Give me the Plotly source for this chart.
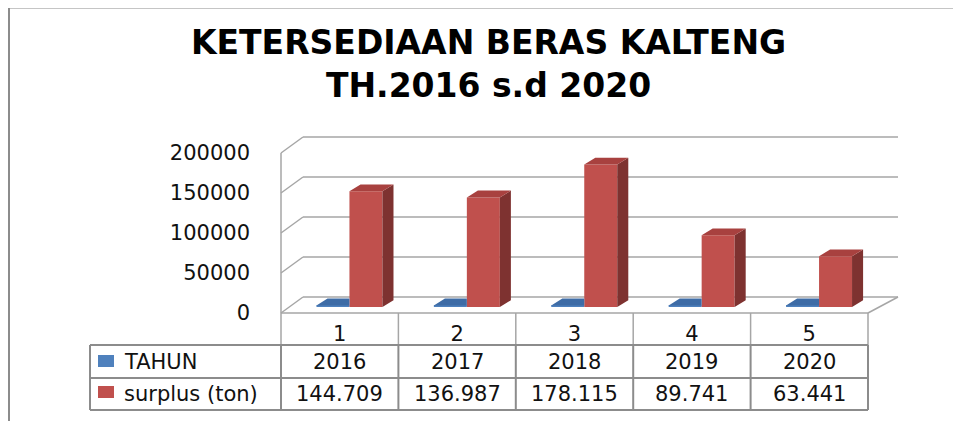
import plotly.graph_objects as go

# ---------------- data ----------------
categories = ["1", "2", "3", "4", "5"]
tahun = [2016, 2017, 2018, 2019, 2020]
surplus = [144709, 136987, 178115, 89741, 63441]
series_names = ["TAHUN", "surplus (ton)"]
y_ticks = [0, 50000, 100000, 150000, 200000]
title_lines = ["KETERSEDIAAN BERAS KALTENG", "TH.2016 s.d 2020"]

# ---------------- geometry helpers (reference pixel -> data) ----------------
OFF = 8                       # page body margin
W, H = 961 - OFF, 421 - OFF
X0PX, CW = 281, 117.4         # front-left floor corner, category width (reference px)
Y0PX, K = 313, 0.0008         # front floor y, px per value unit


def xd(px):
    return -0.5 + (px - X0PX) / CW


def yd(py):
    return (Y0PX - py) / K


XR = [xd(OFF), xd(OFF + W)]
YR = [yd(OFF + H), yd(OFF)]

# depth (oblique 3-D look)
DV_FULL = 16 / K
DX_L, DX_R = 22 / CW, 30 / CW
D0, D1 = 0.375, 0.80
SX = D0 * 26 / CW
SV = D0 * DV_FULL
BDX = (D1 - D0) * 26 / CW
BDV = (D1 - D0) * DV_FULL
BW = 0.281

BLUE, BLUE_TOP = "#4F81BD", "#3E6CA6"
RED, RED_TOP, RED_SIDE = "#C0504D", "#A8413F", "#7E3230"
GRID = "#A6A6A6"
TBL = "#8C8C8C"
FONT = "DejaVu Sans"
FS = 21

idx = list(range(len(categories)))

fig = go.Figure()

fig.add_trace(go.Bar(x=idx, y=tahun, name=series_names[0], marker=dict(color=BLUE, line=dict(width=0)),
                     xaxis="x2", yaxis="y2", showlegend=False))
fig.add_trace(go.Bar(x=idx, y=surplus, name=series_names[1], marker=dict(color=RED, line=dict(width=0)),
                     xaxis="x2", yaxis="y2", showlegend=False))

bx, by = [], []
for i, v in zip(idx, tahun):
    xl, xr = i - BW, i
    bx += [xl, xr, xr, xl + BDX, xl, None]
    by += [v, v, v + BDV, v + BDV, v, None]
fig.add_trace(go.Scatter(x=bx, y=by, fill="toself", fillcolor=BLUE_TOP, mode="lines",
                         line=dict(width=0), xaxis="x2", yaxis="y2", hoverinfo="skip", showlegend=False))

sx_, sy_, tx_, ty_ = [], [], [], []
for i, v in zip(idx, surplus):
    xl, xr = i, i + BW
    sx_ += [xr, xr, xr + BDX, xr + BDX, xr, None]
    sy_ += [0, v, v + BDV, BDV, 0, None]
    tx_ += [xl, xr, xr + BDX, xl + BDX, xl, None]
    ty_ += [v, v, v + BDV, v + BDV, v, None]
fig.add_trace(go.Scatter(x=sx_, y=sy_, fill="toself", fillcolor=RED_SIDE, mode="lines",
                         line=dict(width=0), xaxis="x2", yaxis="y2", hoverinfo="skip", showlegend=False))
fig.add_trace(go.Scatter(x=tx_, y=ty_, fill="toself", fillcolor=RED_TOP, mode="lines",
                         line=dict(width=0), xaxis="x2", yaxis="y2", hoverinfo="skip", showlegend=False))

shapes = []
xl_f, xr_f = -0.5, len(categories) - 0.5
for v in y_ticks:
    shapes.append(dict(type="line", xref="x", yref="y", x0=xl_f, y0=v, x1=xl_f + DX_L, y1=v + DV_FULL,
                       line=dict(color=GRID, width=1.5), layer="below"))
    shapes.append(dict(type="line", xref="x", yref="y", x0=xl_f + DX_L, y0=v + DV_FULL, x1=xr_f + DX_R,
                       y1=v + DV_FULL, line=dict(color=GRID, width=1.5), layer="below"))
shapes.append(dict(type="line", xref="x", yref="y", x0=xl_f, y0=0, x1=xl_f, y1=y_ticks[-1],
                   line=dict(color=GRID, width=1.5), layer="below"))
shapes.append(dict(type="line", xref="x", yref="y", x0=xr_f, y0=0, x1=xr_f + DX_R, y1=DV_FULL,
                   line=dict(color=GRID, width=1.5), layer="below"))
shapes.append(dict(type="line", xref="x", yref="y", x0=xl_f, y0=0, x1=xr_f, y1=0,
                   line=dict(color=GRID, width=1.5), layer="below"))

r0, r1, r2, r3 = yd(313), yd(345), yd(378), yd(410)
tl = xd(90)
for k in range(len(categories) + 1):
    shapes.append(dict(type="line", xref="x", yref="y", x0=xl_f + k, y0=r0, x1=xl_f + k, y1=r1,
                       line=dict(color=GRID, width=1.5)))
    shapes.append(dict(type="line", xref="x", yref="y", x0=xl_f + k, y0=r1, x1=xl_f + k, y1=r3,
                       line=dict(color=TBL, width=2)))
shapes.append(dict(type="line", xref="x", yref="y", x0=tl, y0=r1, x1=tl, y1=r3, line=dict(color=TBL, width=2)))
for r in (r1, r2, r3):
    shapes.append(dict(type="line", xref="x", yref="y", x0=tl, y0=r, x1=xr_f, y1=r, line=dict(color=TBL, width=2)))

for (c, y_top, y_bot) in ((BLUE, 355, 367), (RED, 386, 398)):
    shapes.append(dict(type="rect", xref="x", yref="y", x0=xd(98), x1=xd(114), y0=yd(y_bot), y1=yd(y_top),
                       fillcolor=c, line=dict(width=0)))

# chart border (left + top visible)
shapes.append(dict(type="line", xref="x", yref="y", x0=xd(9), x1=xd(9), y0=yd(7.5), y1=yd(440),
                   line=dict(color=TBL, width=2)))
shapes.append(dict(type="line", xref="x", yref="y", x0=xd(9), x1=xd(980), y0=yd(7.5), y1=yd(7.5),
                   line=dict(color=TBL, width=2)))

annotations = []
row_y = [yd(362), yd(394)]
for name, ry in zip(series_names, row_y):
    annotations.append(dict(text=name, xref="x", yref="y", x=xd(122), y=ry, xanchor="left", yanchor="middle",
                            showarrow=False, font=dict(family=FONT, size=FS, color="#111")))
for i, t, s in zip(idx, tahun, surplus):
    annotations.append(dict(text=str(t), xref="x", yref="y", x=i, y=row_y[0], xanchor="center",
                            yanchor="middle", showarrow=False, font=dict(family=FONT, size=FS, color="#111")))
    annotations.append(dict(text=f"{s:,}".replace(",", "."), xref="x", yref="y", x=i, y=row_y[1],
                            xanchor="center", yanchor="middle", showarrow=False,
                            font=dict(family=FONT, size=FS, color="#111")))

annotations.append(dict(text="<b>" + "<br>".join(title_lines) + "</b>", xref="x", yref="y",
                        x=xd(488), y=yd(64), xanchor="center", yanchor="middle", showarrow=False,
                        font=dict(family=FONT, size=33, color="#000")))

fig.update_layout(
    width=W, height=H,
    margin=dict(l=0, r=0, t=0, b=0),
    paper_bgcolor="white", plot_bgcolor="rgba(0,0,0,0)",
    barmode="group", bargap=0.438, bargroupgap=0,
    xaxis=dict(range=XR, showgrid=False, zeroline=False, showline=False, tickvals=idx, ticktext=categories,
               anchor="free", position=(OFF + H - Y0PX) / H, ticks="", ticklabelstandoff=6,
               tickfont=dict(family=FONT, size=FS, color="#111"), fixedrange=True),
    yaxis=dict(range=YR, showgrid=False, zeroline=False, showline=False, tickvals=y_ticks,
               ticktext=[str(v) for v in y_ticks],
               anchor="free", position=(X0PX - OFF) / W, ticks="", ticklabelstandoff=31,
               tickfont=dict(family=FONT, size=FS, color="#111"), fixedrange=True),
    xaxis2=dict(range=[XR[0] - SX, XR[1] - SX], overlaying="x", visible=False, fixedrange=True),
    yaxis2=dict(range=[YR[0] - SV, YR[1] - SV], overlaying="y", visible=False, fixedrange=True),
    shapes=shapes, annotations=annotations, showlegend=False,
)

fig.write_html("out.html")
